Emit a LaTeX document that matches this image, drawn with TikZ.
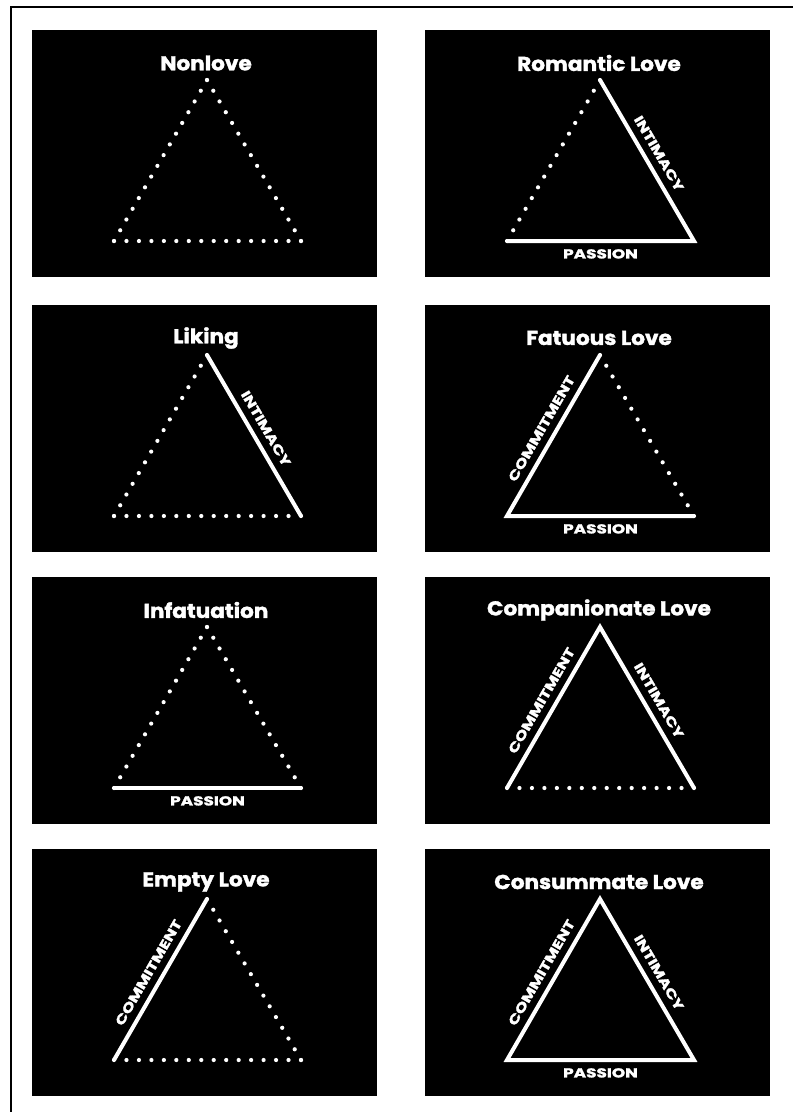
\documentclass[tikz,border=0pt]{standalone}
\usepackage{fontspec}
\setmainfont{Poppins}[BoldFeatures={FakeBold=1.6}]
\usetikzlibrary{calc}
\tikzset{
  panelbox/.style={fill=black, draw=none, minimum width=345pt, minimum height=247pt, inner sep=0pt, anchor=north west},
  titletext/.style={text=white, inner sep=0pt, font=\fontsize{20}{20}\selectfont\bfseries},
  sidelabel/.style={text=white, inner sep=0pt, font=\fontsize{13}{13}\selectfont\bfseries},
  solidside/.style={draw=white, line width=4pt, line join=miter},
  framerule/.style={draw=black, line width=1.2pt},
  dotmark/.style={fill=white},
}
\newcommand\widetext[1]{\scalebox{1.3}[1]{#1}}
\newcommand\widetitle[1]{\scalebox{1.08}[1]{#1}}
\newcommand\dotside[2]{\foreach \k [evaluate=\k as \f using \k/15] in {0,...,15}{\fill[dotmark] ($(#1)!\f!(#2)$) circle (2.1pt);}}
\newcommand\lovepanel[4]{%
  \node[panelbox] (#1-bg) at (#2,#3) {};
  \node[titletext] (#1-t) at ($(#2,#3)+(174,33)$) {\widetitle{#4}};
  \coordinate (#1-a) at ($(#2,#3)+(175,50)$);
  \coordinate (#1-l) at ($(#2,#3)+(82,211)$);
  \coordinate (#1-r) at ($(#2,#3)+(269,211)$);
}
\newcommand\commlabel[1]{\path (#1-l) -- node[sidelabel, sloped, above=9pt] (#1-cl) {\widetext{COMMITMENT}} (#1-a);}
\newcommand\intlabel[1]{\path (#1-a) -- node[sidelabel, sloped, above=9pt] (#1-il) {\widetext{INTIMACY}} (#1-r);}
\newcommand\paslabel[1]{\path (#1-l) -- node[sidelabel, below=8pt] (#1-pl) {\widetext{PASSION}} (#1-r);}
\begin{document}
\begin{tikzpicture}[x=1pt,y=-1pt]
\useasboundingbox[fill=white] (0,0) rectangle (793,1112);
\coordinate (fbl) at (11,1112);
\coordinate (ftl) at (11,7);
\coordinate (ftr) at (793,7);
\draw[framerule] (fbl) -- (ftl) -- (ftr);

% Nonlove
\lovepanel{p1}{32}{30}{Nonlove}
\dotside{p1-l}{p1-a}\dotside{p1-a}{p1-r}\dotside{p1-l}{p1-r}

% Romantic Love
\lovepanel{p2}{425}{30}{Romantic Love}
\dotside{p2-l}{p2-a}
\draw[solidside] (p2-a) -- (p2-r) -- (p2-l);
\intlabel{p2}\paslabel{p2}

% Liking
\lovepanel{p3}{32}{305}{Liking}
\dotside{p3-l}{p3-a}\dotside{p3-l}{p3-r}
\draw[solidside] (p3-a) -- (p3-r);
\intlabel{p3}

% Fatuous Love
\lovepanel{p4}{425}{305}{Fatuous Love}
\dotside{p4-a}{p4-r}
\draw[solidside] (p4-a) -- (p4-l) -- (p4-r);
\commlabel{p4}\paslabel{p4}

% Infatuation
\lovepanel{p5}{32}{577}{Infatuation}
\dotside{p5-l}{p5-a}\dotside{p5-a}{p5-r}
\draw[solidside] (p5-l) -- (p5-r);
\paslabel{p5}

% Companionate Love
\lovepanel{p6}{425}{577}{Companionate Love}
\dotside{p6-l}{p6-r}
\draw[solidside] (p6-l) -- (p6-a) -- (p6-r);
\commlabel{p6}\intlabel{p6}

% Empty Love
\lovepanel{p7}{32}{849}{Empty Love}
\dotside{p7-a}{p7-r}\dotside{p7-l}{p7-r}
\draw[solidside] (p7-l) -- (p7-a);
\commlabel{p7}

% Consummate Love
\lovepanel{p8}{425}{849}{Consummate Love}
\draw[solidside] (p8-a) -- (p8-r) -- (p8-l) -- cycle;
\commlabel{p8}\intlabel{p8}\paslabel{p8}
\end{tikzpicture}
\end{document}
